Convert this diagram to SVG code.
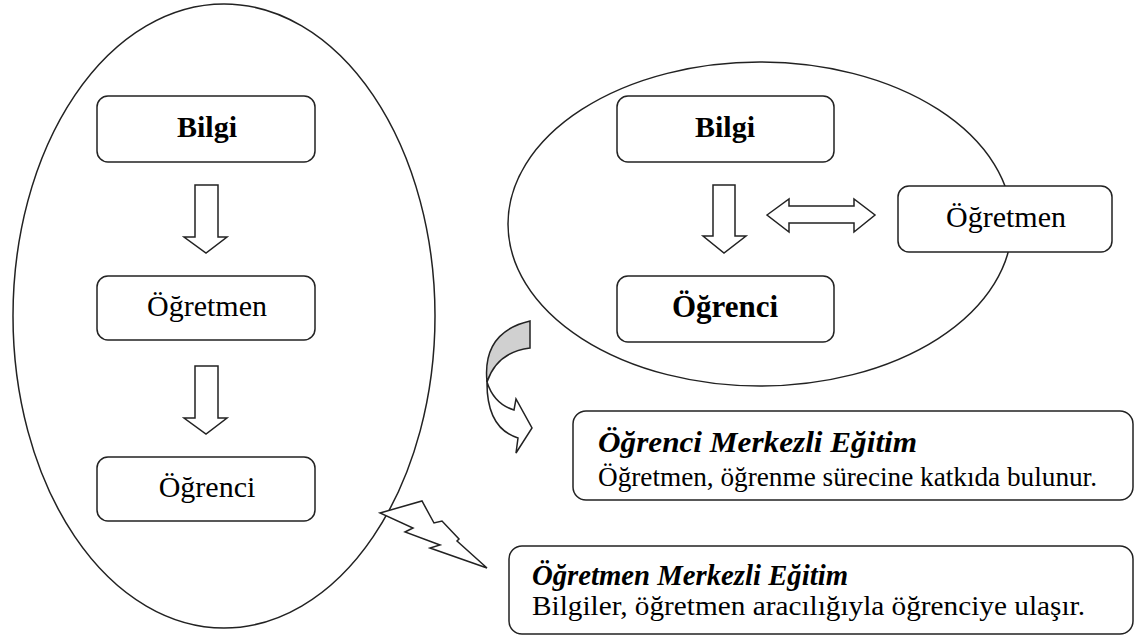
<svg xmlns="http://www.w3.org/2000/svg" width="1142" height="636" viewBox="0 0 1142 636">
<style>
.ln{fill:#fff;stroke:#222;stroke-width:1.5}
.bx{fill:#fff;stroke:#222;stroke-width:1.5}
.t{font-family:"Liberation Serif","Times New Roman",serif;fill:#000}
.b{font-weight:bold}
.bi{font-weight:bold;font-style:italic}
</style>
<rect width="1142" height="636" fill="#fff"/>
<g id="left-ellipse"><ellipse class="ln" cx="224" cy="316" rx="211" ry="312"/></g>
<g id="right-ellipse"><ellipse class="ln" cx="760" cy="224" rx="252" ry="162"/></g>
<g id="connectors">
<path class="ln" d="M195,185 H218 V237 H227 L206,253 L184,237 H195 Z"/>
<path class="ln" d="M195,366 H218 V418 H227 L206,434 L184,418 H195 Z"/>
<path class="ln" d="M713,185 H735 V236 H746 L724,253 L703,236 H713 Z"/>
<path class="ln" d="M767,215 L789,199 V206 H854 V199 L875,215 L854,232 V223 H789 V232 Z"/>
<path fill="#d0d0d0" stroke="#222" stroke-width="1.5" d="M530,321 V348 Q497,352 487,382 Q482,332 530,321 Z"/>
<path class="ln" d="M487,380 Q486,428 518,438 L516,453 L532,428 L516,399 L514,410 Q494,404 487,382 Z"/>
<path class="ln" d="M380,513 L422,501 L434,523 L442,521 L459,539 L457,541 L487,568 L430,548 L440,545 L405,532 L413,528 Z"/>
</g>
<g id="bilgi-left"><rect class="bx" x="97" y="96" width="218" height="66" rx="11"/><text class="t b" x="207" y="137" font-size="30" text-anchor="middle">Bilgi</text></g>
<g id="ogretmen-left"><rect class="bx" x="97" y="276" width="218" height="64" rx="11"/><text class="t" x="207" y="316" font-size="30" text-anchor="middle">Öğretmen</text></g>
<g id="ogrenci-left"><rect class="bx" x="97" y="457" width="218" height="64" rx="11"/><text class="t" x="207" y="497" font-size="30" text-anchor="middle">Öğrenci</text></g>
<g id="bilgi-right"><rect class="bx" x="617" y="96" width="217" height="66" rx="11"/><text class="t b" x="725" y="137" font-size="30" text-anchor="middle">Bilgi</text></g>
<g id="ogretmen-right"><rect class="bx" x="898" y="186" width="214" height="66" rx="11"/><text class="t" x="1006" y="227" font-size="30" text-anchor="middle">Öğretmen</text></g>
<g id="ogrenci-right"><rect class="bx" x="617" y="276" width="217" height="66" rx="11"/><text class="t b" x="725" y="317" font-size="31" text-anchor="middle">Öğrenci</text></g>
<g id="ogrenci-merkezli"><rect class="bx" x="573" y="411" width="560" height="89" rx="13"/><text class="t bi" x="598" y="452" font-size="30" textLength="319" lengthAdjust="spacingAndGlyphs">Öğrenci Merkezli Eğitim</text><text class="t" x="598" y="486" font-size="27" textLength="499" lengthAdjust="spacingAndGlyphs">Öğretmen, öğrenme sürecine katkıda bulunur.</text></g>
<g id="ogretmen-merkezli"><rect class="bx" x="509" y="546" width="624" height="88" rx="13"/><text class="t bi" x="532" y="585" font-size="29" textLength="316" lengthAdjust="spacingAndGlyphs">Öğretmen Merkezli Eğitim</text><text class="t" x="532" y="615" font-size="28" textLength="553" lengthAdjust="spacingAndGlyphs">Bilgiler, öğretmen aracılığıyla öğrenciye ulaşır.</text></g>
</svg>
